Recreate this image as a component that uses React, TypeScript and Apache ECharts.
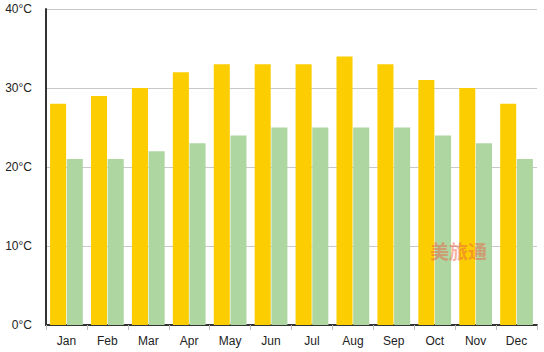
import React, { useEffect, useRef } from "react";
import * as echarts from "echarts";

const months = ["Jan", "Feb", "Mar", "Apr", "May", "Jun", "Jul", "Aug", "Sep", "Oct", "Nov", "Dec"];
const highTemps = [28, 29, 30, 32, 33, 33, 33, 34, 33, 31, 30, 28];
const lowTemps = [21, 21, 22, 23, 24, 25, 25, 25, 25, 24, 23, 21];

export default function App() {
  const ref = useRef<HTMLDivElement>(null);
  useEffect(() => {
    if (!ref.current) return;
    const chart = echarts.init(ref.current, null, { renderer: "svg" });
    chart.setOption({
      animation: false,
      backgroundColor: "#fff",
      grid: { left: 46, right: 7, top: 9, bottom: 27 },
      xAxis: {
        type: "category",
        data: months,
        axisLine: { lineStyle: { color: "#333", width: 2 } },
        axisTick: { show: true, length: 5, lineStyle: { color: "#bbb" } },
        axisLabel: { color: "#222", fontSize: 12, fontFamily: "Liberation Sans, Arial", margin: 10 },
      },
      yAxis: {
        type: "value",
        min: 0,
        max: 40,
        interval: 10,
        axisLine: { show: true, lineStyle: { color: "#333", width: 2 } },
        axisTick: { show: false },
        axisLabel: { formatter: "{value}°C", color: "#222", fontSize: 12, fontFamily: "Liberation Sans, Arial", margin: 14 },
        splitLine: { lineStyle: { color: "#c8c8c8" } },
      },
      graphic: [
        {
          type: "text",
          left: 430,
          top: 241,
          z: 100,
          silent: true,
          style: {
            text: "美旅通",
            fill: "rgba(235,100,70,0.5)",
            font: "bold 19px 'Noto Sans CJK SC'",
          },
        },
      ],
      series: [
        {
          type: "bar",
          data: highTemps,
          barCategoryGap: "20%",
          barGap: "4%",
          itemStyle: { color: "#FCCD00" },
        },
        {
          type: "bar",
          data: lowTemps,
          itemStyle: { color: "#ADD6A1" },
        },
      ],
    });
    return () => chart.dispose();
  }, []);
  return <div ref={ref} style={{ width: 544, height: 352, position: "absolute", left: 0, top: 0 }} />;
}
